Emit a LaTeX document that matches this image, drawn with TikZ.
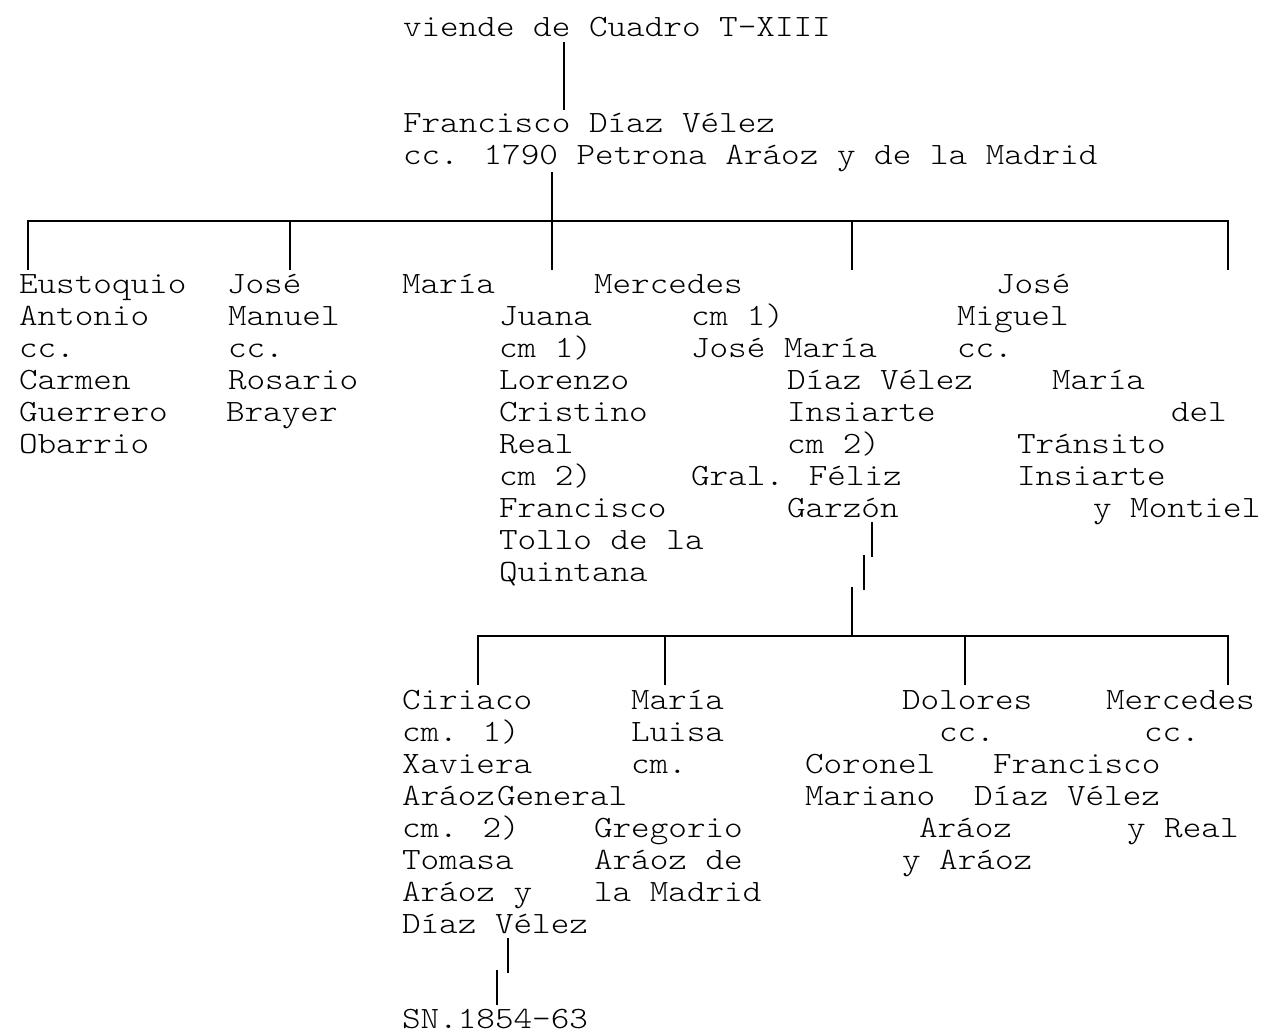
\documentclass[tikz,border=0pt]{standalone}
\usepackage{fontspec}
\newfontfamily\cour[FakeStretch=1.1429]{Latin Modern Mono Light}
\begin{document}
\begin{tikzpicture}[x=0.5pt,y=-0.5pt,
  txt/.style={anchor=base west,inner sep=0pt,outer sep=0pt,font=\cour\fontsize{15.5pt}{16pt}\selectfont},
  ln/.style={line width=1.25pt,line join=miter}]
\useasboundingbox[fill=white] (0,0) rectangle (1268,1035);
\newcommand\T[4]{\node[txt] (#1) at (#2,#3) {#4};}
% top
\T{t1}{403}{36}{viende de Cuadro T-XIII}
\T{t2}{403}{132}{Francisco Díaz Vélez}
\T{t3}{403}{164}{cc. 1790 Petrona Aráoz y de la Madrid}
% row 1
\T{a1}{19}{293}{Eustoquio}
\T{a2}{19}{325}{Antonio}
\T{a3}{19}{357}{cc.}
\T{a4}{19}{389}{Carmen}
\T{a5}{19}{421}{Guerrero}
\T{a6}{19}{453}{Obarrio}
\T{b1}{227}{293}{José}
\T{b2}{228}{325}{Manuel}
\T{b3}{228}{357}{cc.}
\T{b4}{228}{389}{Rosario}
\T{b5}{226}{421}{Brayer}
\T{c1}{402}{293}{María}
\T{c2}{499}{325}{Juana}
\T{c3}{499}{357}{cm 1)}
\T{c4}{499}{389}{Lorenzo}
\T{c5}{499}{421}{Cristino}
\T{c6}{499}{453}{Real}
\T{c7}{499}{485}{cm 2)}
\T{c8}{499}{517}{Francisco}
\T{c9}{499}{549}{Tollo de la}
\T{c10}{499}{581}{Quintana}
\T{d1}{594}{293}{Mercedes}
\T{d2}{691}{325}{cm 1)}
\T{d3}{691}{357}{José María}
\T{d4}{787}{389}{Díaz Vélez}
\T{d5}{787}{421}{Insiarte}
\T{d6}{787}{453}{cm 2)}
\T{d7}{691}{485}{Gral. Féliz}
\T{d8}{787}{517}{Garzón}
\T{e1}{996}{293}{José}
\T{e2}{957}{325}{Miguel}
\T{e3}{957}{357}{cc.}
\T{e4}{1052}{389}{María}
\T{e5}{1171}{421}{del}
\T{e6}{1017}{453}{Tránsito}
\T{e7}{1017}{485}{Insiarte}
\T{e8}{1093}{517}{y Montiel}
% row 2
\T{f1}{402}{709}{Ciriaco}
\T{f2}{402}{741}{cm. 1)}
\T{f3}{402}{773}{Xaviera}
\T{f4}{402}{805}{Aráoz}
\T{g4}{497}{805}{General}
\T{f5}{402}{837}{cm. 2)}
\T{f6}{402}{869}{Tomasa}
\T{f7}{402}{901}{Aráoz y}
\T{f8}{402}{933}{Díaz Vélez}
\T{g1}{631}{709}{María}
\T{g2}{631}{741}{Luisa}
\T{g3}{631}{773}{cm.}
\T{g5}{594}{837}{Gregorio}
\T{g6}{594}{869}{Aráoz de}
\T{g7}{594}{901}{la Madrid}
\T{h1}{902}{709}{Dolores}
\T{h2}{939}{741}{cc.}
\T{h3}{805}{773}{Coronel}
\T{h4}{805}{805}{Mariano}
\T{h5}{919}{837}{Aráoz}
\T{h6}{902}{869}{y Aráoz}
\T{i1}{1106}{709}{Mercedes}
\T{i2}{1144}{741}{cc.}
\T{i3}{993}{773}{Francisco}
\T{i4}{974}{805}{Díaz Vélez}
\T{i5}{1127}{837}{y Real}
\T{s1}{402}{1028}{SN.1854-63}
% connector coordinates
\coordinate (p0) at (564,42);  \coordinate (p1) at (564,110);
\coordinate (q0) at (552,172); \coordinate (q1) at (552,270);
\coordinate (ba) at (28,270);  \coordinate (bA) at (28,221);
\coordinate (bz) at (1228,270); \coordinate (bZ) at (1228,221);
\coordinate (bb) at (290,270);  \coordinate (bB) at (290,221);
\coordinate (bd) at (852,270);  \coordinate (bD) at (852,221);
\coordinate (g0) at (872,522); \coordinate (g1) at (872,557);
\coordinate (g2) at (864,555); \coordinate (g3) at (864,590);
\coordinate (g4) at (852,587); \coordinate (g5) at (852,636);
\coordinate (ca) at (478,685); \coordinate (cA) at (478,636);
\coordinate (cz) at (1228,685); \coordinate (cZ) at (1228,636);
\coordinate (cb) at (665,685); \coordinate (cB) at (665,636);
\coordinate (cc) at (965,685); \coordinate (cC) at (965,636);
\coordinate (v0) at (508,938); \coordinate (v1) at (508,973);
\coordinate (v2) at (497,970); \coordinate (v3) at (497,1005);
% connectors
\draw[ln] (p0) -- (p1);
\draw[ln] (q0) -- (q1);
\draw[ln] (ba) -- (bA) -- (bZ) -- (bz);
\draw[ln] (bb) -- (bB);
\draw[ln] (bd) -- (bD);
\draw[ln] (g0) -- (g1);
\draw[ln] (g2) -- (g3);
\draw[ln] (g4) -- (g5);
\draw[ln] (ca) -- (cA) -- (cZ) -- (cz);
\draw[ln] (cb) -- (cB);
\draw[ln] (cc) -- (cC);
\draw[ln] (v0) -- (v1);
\draw[ln] (v2) -- (v3);
\end{tikzpicture}
\end{document}
